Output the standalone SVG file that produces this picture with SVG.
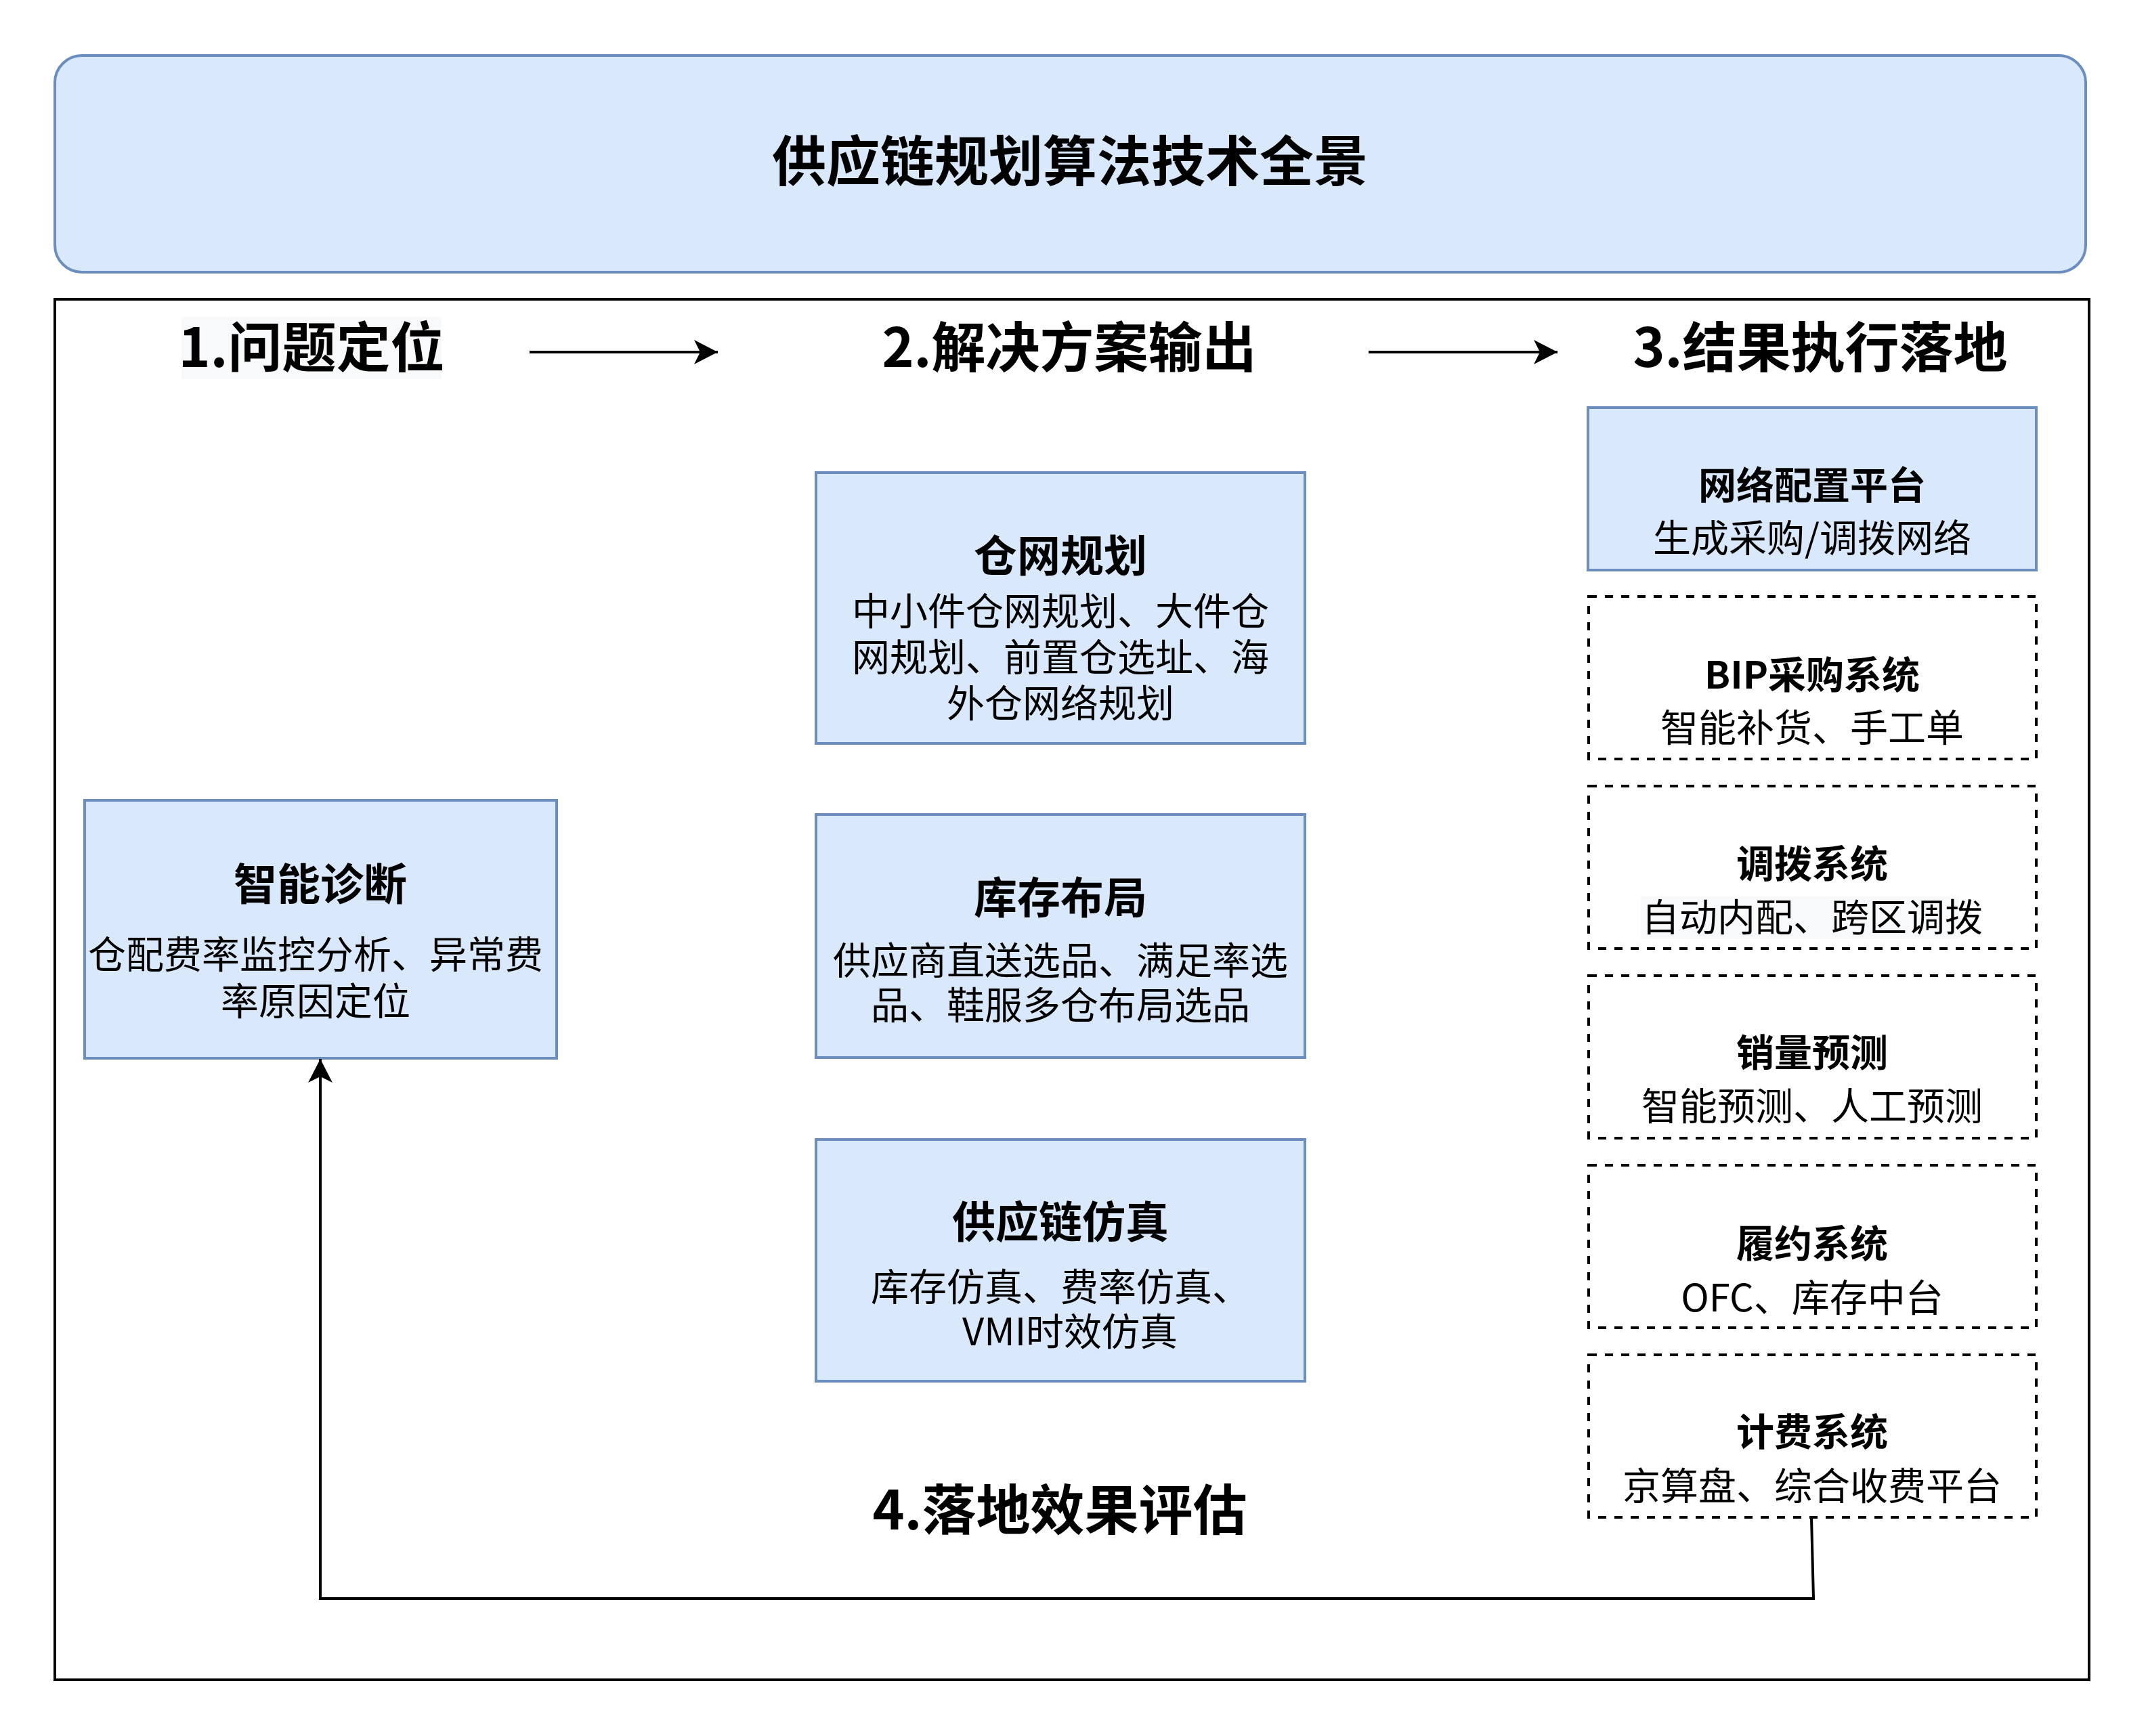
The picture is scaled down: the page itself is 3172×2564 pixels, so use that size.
<svg xmlns="http://www.w3.org/2000/svg" width="3172" height="2564" viewBox="0 0 3172 2564">
<defs>
<style>
.t{font-family:"Noto Sans CJK SC","Noto Sans",sans-serif;fill:#000;text-anchor:middle;dominant-baseline:central}
.h{font-size:80px;font-weight:bold}
.b{font-size:64px;font-weight:bold}
.rb{font-size:56px;font-weight:bold}
.n{font-size:56px}
.blue{fill:#dae8fc;stroke:#6c8ebf;stroke-width:4}
.dash{fill:none;stroke:#000;stroke-width:4;stroke-dasharray:12 12}
.ln{fill:none;stroke:#000;stroke-width:4}
</style>
<marker id="arr" markerUnits="userSpaceOnUse" markerWidth="40" markerHeight="40" viewBox="0 -20 36 40" refX="35" refY="0" orient="auto">
<path d="M0,-18 L35,0 L0,18 L9,0 Z" fill="#000"/>
</marker>
</defs>
<rect width="3172" height="2564" fill="#fff"/>
<g id="title">
<rect x="81" y="82" width="2999" height="320" rx="40" ry="40" class="blue"/>
<text class="t h" x="1580" y="232">供应链规划算法技术全景</text>
</g>
<g id="frame">
<rect x="81" y="442" width="3004" height="2039" fill="none" stroke="#000" stroke-width="4"/>
</g>
<g id="headers">
<rect x="268" y="468" width="384" height="92" fill="#f8f9fa"/>
<text class="t h" x="460" y="507">1.问题定位</text>
<text class="t h" x="1579" y="507">2.解决方案输出</text>
<text class="t h" x="2688" y="507">3.结果执行落地</text>
<text class="t h" x="1565" y="2224">4.落地效果评估</text>
</g>
<g id="diagnose">
<rect x="125" y="1182" width="697" height="381" class="blue"/>
<text class="t b" x="473" y="1301">智能诊断</text>
<text class="t n" x="466" y="1405">仓配费率监控分析、异常费</text>
<text class="t n" x="466" y="1474">率原因定位</text>
</g>
<g id="warehouse">
<rect x="1205" y="698" width="722" height="400" class="blue"/>
<text class="t b" x="1566" y="816">仓网规划</text>
<text class="t n" x="1566" y="898">中小件仓网规划、大件仓</text>
<text class="t n" x="1566" y="966">网规划、前置仓选址、海</text>
<text class="t n" x="1566" y="1034">外仓网络规划</text>
</g>
<g id="inventory">
<rect x="1205" y="1203" width="722" height="359" class="blue"/>
<text class="t b" x="1566" y="1321">库存布局</text>
<text class="t n" x="1566" y="1414">供应商直送选品、满足率选</text>
<text class="t n" x="1566" y="1480">品、鞋服多仓布局选品</text>
</g>
<g id="simulation">
<rect x="1205" y="1683" width="722" height="357" class="blue"/>
<text class="t b" x="1566" y="1800">供应链仿真</text>
<text class="t n" x="1566" y="1896">库存仿真、费率仿真、</text>
<text class="t n" x="1580" y="1962">VMI时效仿真</text>
</g>
<g id="network">
<rect x="2345" y="602" width="662" height="240" class="blue"/>
<text class="t rb" x="2676" y="712">网络配置平台</text>
<text class="t n" x="2676" y="790">生成采购/调拨网络</text>
</g>
<g id="bip">
<rect x="2346" y="881" width="661" height="240" class="dash"/>
<text class="t rb" x="2676" y="992">BIP采购系统</text>
<text class="t n" x="2676" y="1070">智能补货、手工单</text>
</g>
<g id="transfer">
<rect x="2346" y="1161" width="661" height="240" class="dash"/>
<text class="t rb" x="2676" y="1271">调拨系统</text>
<rect x="2423" y="1324" width="470" height="63" fill="#f8f9fa"/>
<text class="t n" x="2676" y="1350">自动内配、跨区调拨</text>
</g>
<g id="forecast">
<rect x="2346" y="1441" width="661" height="240" class="dash"/>
<text class="t rb" x="2676" y="1550">销量预测</text>
<text class="t n" x="2676" y="1629">智能预测、人工预测</text>
</g>
<g id="fulfill">
<rect x="2346" y="1721" width="661" height="240" class="dash"/>
<text class="t rb" x="2676" y="1832">履约系统</text>
<text class="t n" x="2676" y="1912">OFC、库存中台</text>
</g>
<g id="billing">
<rect x="2346" y="2001" width="661" height="240" class="dash"/>
<text class="t rb" x="2676" y="2110">计费系统</text>
<text class="t n" x="2676" y="2190">京算盘、综合收费平台</text>
</g>
<g id="connectors">
<path d="M782,520 L1060,520" class="ln" marker-end="url(#arr)"/>
<path d="M2021,520 L2300,520" class="ln" marker-end="url(#arr)"/>
<path d="M2675,2242 L2678,2361 L473,2361 L473,1564" class="ln" marker-end="url(#arr)"/>
</g>
</svg>
